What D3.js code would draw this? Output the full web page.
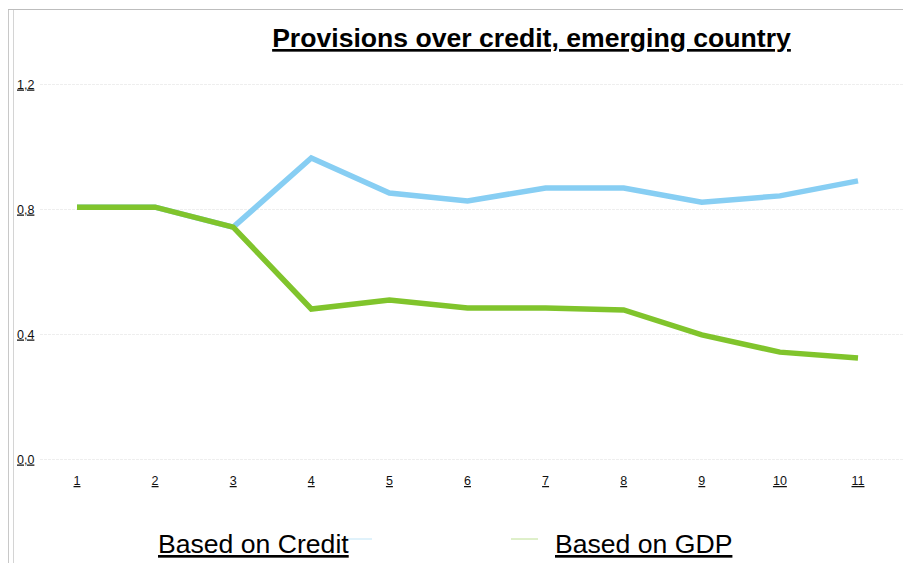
<!DOCTYPE html>
<html><head><meta charset="utf-8">
<script src="https://cdn.jsdelivr.net/npm/d3@7"></script>
<style>body{margin:0;background:#fff;}svg{display:block;font-family:"Liberation Sans",Arial,sans-serif;}</style>
</head><body>
<svg id="c" width="903" height="563"></svg>
<script>
const categories = ["1","2","3","4","5","6","7","8","9","10","11"];
const credit = [0.806,0.806,0.742,0.963,0.851,0.826,0.867,0.867,0.822,0.842,0.890];
const gdp = [0.806,0.806,0.742,0.480,0.509,0.483,0.483,0.477,0.397,0.342,0.323];
const yTicks = [0.0,0.4,0.8,1.2];
const yTickLabels = ["0,0","0,4","0,8","1,2"];
const seriesNames = ["Based on Credit","Based on GDP"];
const colors = ["#87cef3","#80c42c"];

const svg = d3.select("#c");
// frame
svg.append("line").attr("x1",8.5).attr("x2",8.5).attr("y1",9).attr("y2",563).attr("stroke","#c8c8c8");
svg.append("line").attr("x1",13.5).attr("x2",13.5).attr("y1",9).attr("y2",563).attr("stroke","#d4d4d4");
svg.append("line").attr("x1",8).attr("x2",903).attr("y1",9.5).attr("y2",9.5).attr("stroke","#bdbdbd");

const x = d3.scalePoint().domain(categories).range([77,858]);
const y = d3.scaleLinear().domain([0,1.2]).range([459,84]);

// gridlines
svg.append("g").selectAll("line").data(yTicks).join("line")
  .attr("x1",40).attr("x2",903).attr("y1",d=>Math.round(y(d))+0.5).attr("y2",d=>Math.round(y(d))+0.5)
  .attr("stroke","#eeeeee").attr("stroke-dasharray","3,1");

// y labels
svg.append("g").selectAll("text").data(yTicks).join("text")
  .attr("x",17).attr("y",(d)=>y(d)+4.5).attr("font-size",12.5).attr("fill","#111")
  .attr("text-decoration","underline").text((d,i)=>yTickLabels[i]);

// x labels
svg.append("g").selectAll("text").data(categories).join("text")
  .attr("x",d=>x(d)).attr("y",485).attr("text-anchor","middle").attr("font-size",12.5).attr("fill","#111")
  .attr("text-decoration","underline").text(d=>d);

const line = d3.line().x((d,i)=>x(categories[i])).y(d=>y(d));
svg.append("path").datum(credit).attr("d",line).attr("fill","none").attr("stroke",colors[0])
  .attr("stroke-width",5.5).attr("stroke-linejoin","miter");
svg.append("path").datum(gdp).attr("d",line).attr("fill","none").attr("stroke",colors[1])
  .attr("stroke-width",5.5).attr("stroke-linejoin","miter");

// title
svg.append("text").attr("x",531.5).attr("y",47).attr("text-anchor","middle")
  .attr("font-size",26.6).attr("font-weight","bold").attr("fill","#000")
  .attr("text-decoration","underline").text("Provisions over credit, emerging country");

// legend
const leg = [{t:seriesNames[0],tx:158,sx1:346,sx2:372,c:colors[0]},{t:seriesNames[1],tx:555,sx1:511,sx2:538,c:colors[1]}];
leg.forEach(l=>{
  svg.append("line").attr("x1",l.sx1).attr("x2",l.sx2).attr("y1",539).attr("y2",539)
    .attr("stroke",l.c).attr("stroke-width",1).attr("opacity",0.5);
  svg.append("text").attr("x",l.tx).attr("y",553).attr("font-size",26.6).attr("fill","#000")
    .attr("text-decoration","underline").text(l.t);
});
</script>
</body></html>
